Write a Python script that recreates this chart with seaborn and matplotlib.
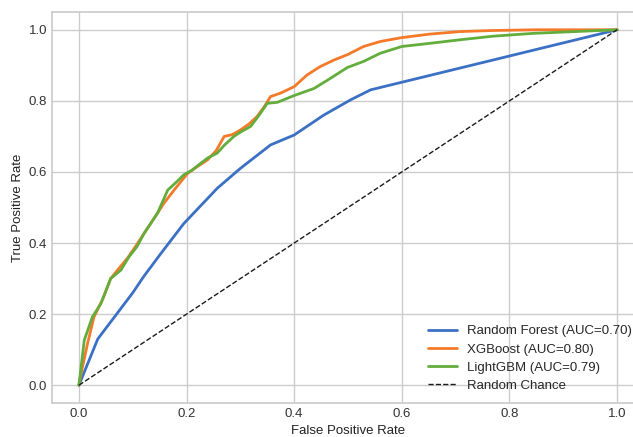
import numpy as np
import pandas as pd
import matplotlib
matplotlib.use("Agg")
import matplotlib.pyplot as plt
import seaborn as sns

# ROC points
rf_fpr = [0.0, 0.035, 0.07, 0.10, 0.12, 0.152, 0.195, 0.257, 0.30, 0.356, 0.40, 0.455, 0.505, 0.542, 1.0]
rf_tpr = [0.0, 0.13, 0.20, 0.26, 0.305, 0.37, 0.455, 0.554, 0.61, 0.676, 0.704, 0.76, 0.803, 0.831, 1.0]

xgb_fpr = [0.0, 0.004, 0.016, 0.028, 0.045, 0.059, 0.075, 0.09, 0.105, 0.121, 0.14, 0.158,
           0.18, 0.202, 0.22, 0.239, 0.255, 0.27, 0.285, 0.30, 0.316, 0.331, 0.345, 0.356,
           0.375, 0.40, 0.424, 0.449, 0.474, 0.499, 0.529, 0.56, 0.60, 0.653, 0.709, 0.77,
           0.85, 1.0]
xgb_tpr = [0.0, 0.033, 0.117, 0.192, 0.245, 0.30, 0.33, 0.357, 0.39, 0.427, 0.47, 0.512,
           0.555, 0.596, 0.615, 0.634, 0.66, 0.70, 0.705, 0.718, 0.735, 0.756, 0.785, 0.812,
           0.822, 0.84, 0.873, 0.897, 0.915, 0.93, 0.953, 0.967, 0.978, 0.988, 0.995, 0.998,
           1.0, 1.0]

lgb_fpr = [0.0, 0.004, 0.01, 0.025, 0.041, 0.059, 0.078, 0.093, 0.108, 0.121, 0.146, 0.165,
           0.18, 0.195, 0.21, 0.226, 0.24, 0.257, 0.27, 0.288, 0.30, 0.319, 0.335, 0.35,
           0.369, 0.40, 0.437, 0.468, 0.499, 0.529, 0.56, 0.60, 0.653, 0.709, 0.77, 0.845,
           1.0]
lgb_tpr = [0.0, 0.05, 0.127, 0.192, 0.23, 0.30, 0.324, 0.361, 0.39, 0.427, 0.484, 0.549,
           0.57, 0.592, 0.605, 0.624, 0.64, 0.653, 0.675, 0.70, 0.712, 0.728, 0.76, 0.793,
           0.796, 0.815, 0.835, 0.864, 0.894, 0.911, 0.934, 0.953, 0.962, 0.972, 0.982, 0.99,
           1.0]

chance = [0.0, 1.0]

models = ["Random Forest (AUC=0.70)", "XGBoost (AUC=0.80)", "LightGBM (AUC=0.79)"]
colors = ["#3b70c4", "#f47a2a", "#63ad3c"]

sns.set_theme(style="whitegrid")
plt.rcParams["font.family"] = ["Liberation Sans", "DejaVu Sans"]

fig = plt.figure(figsize=(6.33, 4.37), dpi=100)
ax = fig.add_axes([52 / 633, (437 - 403) / 437, 592 / 633, 391 / 437])

curves = [(rf_fpr, rf_tpr), (xgb_fpr, xgb_tpr), (lgb_fpr, lgb_tpr)]
for name, color, (fpr, tpr) in zip(models, colors, curves):
    df = pd.DataFrame({"fpr": fpr, "tpr": tpr})
    sns.lineplot(data=df, x="fpr", y="tpr", ax=ax, color=color, linewidth=2,
                 sort=False, estimator=None, label=name)

ax.plot(chance, chance, "k--", linewidth=1, label="Random Chance")

ax.set_xlim(-0.05, 1.05)
ax.set_ylim(-0.05, 1.05)
ax.set_xticks(np.arange(0, 1.01, 0.2))
ax.set_yticks(np.arange(0, 1.01, 0.2))
ax.tick_params(labelsize=9.5, colors="#333333", length=0, pad=3.5)
ax.set_xlabel("False Positive Rate", fontsize=9.5, color="#222222", labelpad=3.5)
ax.set_ylabel("True Positive Rate", fontsize=9.5, color="#222222", labelpad=3.5)

ax.legend(loc="lower right", bbox_to_anchor=(0.988, 0.015), borderaxespad=0,
          frameon=False, fontsize=9.5, handlelength=2.2, handletextpad=0.75,
          labelspacing=0.45)

fig.savefig("out.png", dpi=100)
